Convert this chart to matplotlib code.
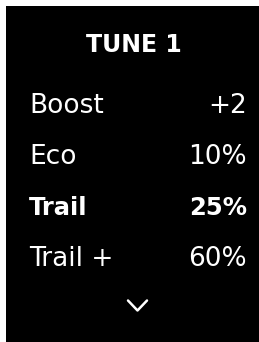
import matplotlib.pyplot as plt
from matplotlib.patches import Rectangle

title = "TUNE 1"
labels = ["Boost", "Eco", "Trail", "Trail +"]
values = ["+2", "10%", "25%", "60%"]
selected = "Trail"

W, H = 259, 342
fig = plt.figure(figsize=(W / 100, H / 100), dpi=100, facecolor='black')
ax = fig.add_axes([0, 0, 1, 1])
ax.set_xlim(0, W)
ax.set_ylim(H, 0)
ax.axis('off')

# white margin on the top and left of the screen
ax.add_patch(Rectangle((0, 0), W, 6, color='white', lw=0))
ax.add_patch(Rectangle((0, 0), 6, H, color='white', lw=0))

ax.text(134, 52, title, color='white', fontsize=17, fontweight='bold',
        ha='center', va='baseline')

row0, step = 113, 51
for i, (lab, val) in enumerate(zip(labels, values)):
    y = row0 + i * step
    bold = lab == selected
    w = 'bold' if bold else 'normal'
    fs = 17.5 if bold else 19
    ax.text(29, y, lab, color='white', fontsize=fs, fontweight=w, ha='left', va='baseline')
    ax.text(247, y, val, color='white', fontsize=fs, fontweight=w, ha='right', va='baseline')

# scroll chevron
ax.plot([128, 137.5, 147], [300.5, 310.5, 300.5], color='white', lw=1.8, solid_capstyle='round')

fig.savefig('out.png', dpi=100, facecolor=fig.get_facecolor())
